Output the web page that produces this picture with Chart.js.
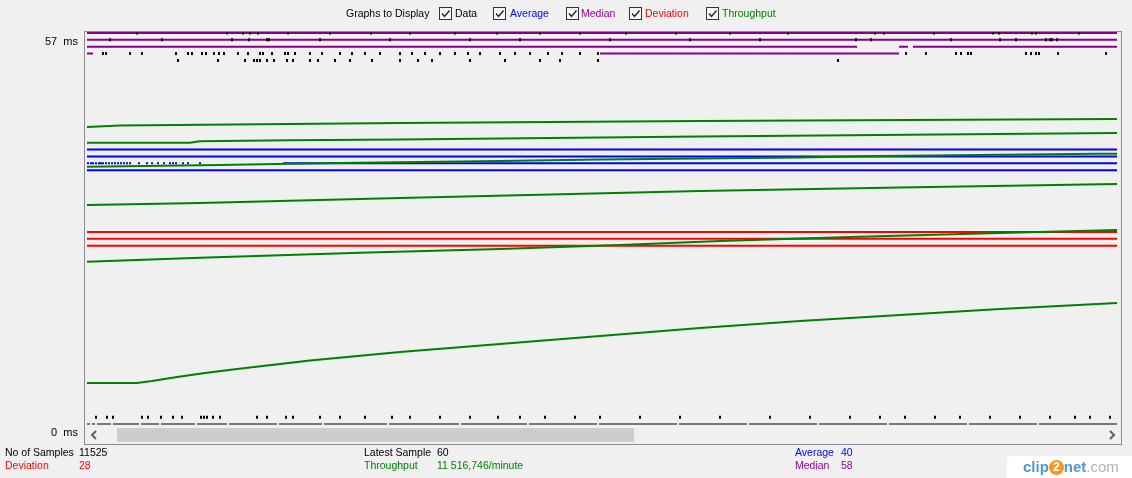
<!DOCTYPE html>
<html>
<head>
<meta charset="utf-8">
<script src="https://cdn.jsdelivr.net/npm/chart.js@4.4.1/dist/chart.umd.min.js"></script>
<style>
  html, body { margin: 0; padding: 0; background: #f0f0f0; }
  body { width: 1132px; height: 478px; position: relative; overflow: hidden;
         font-family: "Liberation Sans", Arial, sans-serif; font-size: 10.5px; color: #000; }
  canvas { position: absolute; left: 0; top: 0; }
  .t { position: absolute; white-space: pre; line-height: 13px; }
  .cb { position: absolute; top: 7px; width: 11px; height: 11px; border: 1px solid #333; background: #f7f7f7; }
  .cb svg { position: absolute; left: 0; top: 0; }
  #frame { position: absolute; left: 84px; top: 31px; width: 1036px; height: 412px; border: 1px solid #8a8e96; }
  #thumb { position: absolute; left: 117px; top: 428px; width: 517px; height: 14px; background: #cdcdcd; }
  .arr { position: absolute; top: 430px; }
  #c2n { position: absolute; left: 1007px; top: 456px; width: 125px; height: 22px; background: #fff;
         border-top-left-radius: 4px; font-family: "Liberation Sans", Arial, sans-serif; font-size: 15px;
         font-weight: bold; line-height: 22px; }
</style>
</head>
<body>
<canvas id="graph" width="1132" height="478"></canvas>

<div class="t" style="left:346px;top:7px">Graphs to Display</div>
<div class="cb" style="left:439px"><svg width="11" height="11"><polyline points="2,5.5 4.5,8.5 9.5,2.5" fill="none" stroke="#222" stroke-width="1.4"/></svg></div>
<div class="t" style="left:455px;top:7px">Data</div>
<div class="cb" style="left:493px"><svg width="11" height="11"><polyline points="2,5.5 4.5,8.5 9.5,2.5" fill="none" stroke="#222" stroke-width="1.4"/></svg></div>
<div class="t" style="left:510px;top:7px;color:#0000ff">Average</div>
<div class="cb" style="left:566px"><svg width="11" height="11"><polyline points="2,5.5 4.5,8.5 9.5,2.5" fill="none" stroke="#222" stroke-width="1.4"/></svg></div>
<div class="t" style="left:581px;top:7px;color:#990099">Median</div>
<div class="cb" style="left:629px"><svg width="11" height="11"><polyline points="2,5.5 4.5,8.5 9.5,2.5" fill="none" stroke="#222" stroke-width="1.4"/></svg></div>
<div class="t" style="left:645px;top:7px;color:#ff0000">Deviation</div>
<div class="cb" style="left:706px"><svg width="11" height="11"><polyline points="2,5.5 4.5,8.5 9.5,2.5" fill="none" stroke="#222" stroke-width="1.4"/></svg></div>
<div class="t" style="left:722px;top:7px;color:#008000">Throughput</div>

<div id="frame"></div>
<div id="thumb"></div>
<svg class="arr" style="left:89px" width="10" height="10"><polyline points="7,1 3,5 7,9" fill="none" stroke="#606060" stroke-width="2"/></svg>
<svg class="arr" style="left:1107px" width="10" height="10"><polyline points="3,1 7,5 3,9" fill="none" stroke="#606060" stroke-width="2"/></svg>

<div class="t" style="left:5px;top:446px">No of Samples</div>
<div class="t" style="left:79px;top:446px">11525</div>
<div class="t" style="left:5px;top:459px;color:#ff0000">Deviation</div>
<div class="t" style="left:79px;top:459px;color:#ff0000">28</div>
<div class="t" style="left:364px;top:446px">Latest Sample</div>
<div class="t" style="left:437px;top:446px">60</div>
<div class="t" style="left:364px;top:459px;color:#008000">Throughput</div>
<div class="t" style="left:437px;top:459px;color:#008000">11 516,746/minute</div>
<div class="t" style="left:795px;top:446px;color:#0000ff">Average</div>
<div class="t" style="left:841px;top:446px;color:#0000ff">40</div>
<div class="t" style="left:795px;top:459px;color:#990099">Median</div>
<div class="t" style="left:841px;top:459px;color:#990099">58</div>

<div id="c2n"><span style="position:absolute;left:16px;top:0;color:#4c9ad6">clip<span style="display:inline-block;width:15px;height:15px;border-radius:50%;background:#f39a1e;color:#fff;text-align:center;line-height:15px;font-size:12px;vertical-align:1px">2</span>net<span style="color:#b4b4b4;font-weight:normal">.com</span></span></div>

<script>
// sample columns run 0..1030, values in ms
let yTicks = [0, 57];

// throughput wraps round the graph, six passes
let tp1X = [0, 33, 313, 613, 1030];
let tp1Y = [43.30, 43.52, 43.88, 44.17, 44.46];
let tp2X = [0, 103, 113, 203, 313, 613, 1030];
let tp2Y = [41.01, 41.01, 41.21, 41.36, 41.47, 41.91, 42.42];
let tp3X = [0, 133, 203, 271, 413, 513, 613, 713, 793, 916, 1010, 1030];
let tp3Y = [37.51, 37.76, 37.95, 38.09, 38.34, 38.56, 38.70, 38.85, 39.07, 39.26, 39.40, 39.40];
let tp4X = [0, 113, 313, 613, 813, 1030];
let tp4Y = [31.93, 32.22, 32.95, 33.97, 34.48, 34.99];
let tp5X = [0, 113, 273, 413, 533, 633, 763, 913, 1030];
let tp5Y = [23.66, 24.24, 24.97, 25.51, 26.09, 26.68, 27.26, 27.84, 28.28];
let tp6X = [0, 50, 65, 90, 118, 150, 193, 223, 313, 413, 513, 613, 713, 813, 913, 1030];
let tp6Y = [5.98, 5.98, 6.27, 6.85, 7.43, 8.02, 8.75, 9.26, 10.50, 11.66, 12.83, 13.99, 15.02, 15.89, 16.76, 17.64];

// average, median, deviation: value and the runs of columns where it is drawn
let averageRows = [40, 39, 38, 37];
let averageRuns = [[[0, 1030]], [[0, 1030]], [[196, 1030]], [[0, 1030]]];
let averageDots38 = [1, 4, 6, 9, 12, 14, 16, 19, 22, 25, 28, 31, 34, 37, 40, 43, 52, 60, 65, 71, 77, 83, 86, 89, 96, 101, 113];
let medianRows = [57, 56, 55, 54];
let medianRuns = [[[0, 1030]], [[0, 1030]], [[0, 770], [812, 821], [826, 1030]], [[0, 6], [513, 812]]];
let deviationRows = [28, 27, 26];

// data samples
let data57 = [50, 140, 156, 163, 171, 201, 243, 284, 323, 368, 410, 453, 493, 539, 589, 643, 701, 788, 797, 847, 906, 912, 945, 949, 992];
let data56 = [23, 75, 145, 162, 180, 182, 233, 303, 383, 433, 523, 603, 673, 769, 784, 864, 913, 929, 959, 963, 965, 970];
let data54 = [16, 19, 43, 55, 89, 101, 105, 115, 119, 127, 132, 137, 151, 161, 173, 176, 185, 198, 201, 208, 223, 235, 253, 265, 278, 293, 313, 325, 338, 353, 368, 381, 393, 413, 428, 443, 461, 475, 493, 511, 819, 839, 869, 874, 881, 884, 939, 944, 949, 952, 971, 1019];
let data53 = [91, 131, 158, 167, 170, 173, 180, 187, 200, 206, 223, 231, 248, 263, 285, 313, 331, 345, 383, 418, 453, 473, 511, 751];
let data1 = [9, 20, 26, 55, 61, 74, 86, 95, 114, 117, 120, 126, 133, 170, 180, 199, 206, 233, 253, 278, 305, 323, 353, 383, 411, 433, 458, 488, 513, 553, 593, 633, 683, 723, 763, 793, 818, 848, 873, 903, 933, 963, 988, 1003, 1023];
let data0Runs = [[0, 3], [5, 8], [10, 24], [26, 52], [54, 72], [74, 108], [110, 140], [142, 190], [192, 235], [237, 300], [302, 372], [374, 440], [442, 510], [512, 590], [592, 660], [662, 730], [732, 800], [802, 880], [882, 950], [952, 1030]];

const GREEN = '#008000', BLUE = '#0000ff', RED = '#ff0000', PURPLE = '#8b008b';

function pts(xs, ys) {
  return xs.map((x, i) => ({ x: x, y: ys[i] }));
}
function runs(v, list) {
  let out = [];
  list.forEach(([a, b]) => { out.push({ x: a, y: v }, { x: b, y: v }, { x: b, y: null }); });
  return out;
}
function marks(v, xs) {
  return xs.map(x => ({ x: x, y: v }));
}
function lineSet(label, data, color) {
  return { label: label, data: data, borderColor: color, borderWidth: 2, pointRadius: 0, spanGaps: false, clip: 4 };
}

let datasets = [];
datasets.push({
  label: 'Data',
  data: [].concat(marks(57, data57), marks(56, data56), marks(54, data54), marks(53, data53), marks(1, data1)),
  showLine: false, pointStyle: 'line', rotation: 90, pointRadius: 1.5,
  pointBorderWidth: 2, pointBorderColor: '#000', clip: 4
});
datasets.push({ label: 'Data', data: runs(0, data0Runs), borderColor: '#000', borderWidth: 1, pointRadius: 0, spanGaps: false, clip: 4 });

[[tp1X, tp1Y], [tp2X, tp2Y], [tp3X, tp3Y], [tp4X, tp4Y], [tp5X, tp5Y], [tp6X, tp6Y]].forEach(([xs, ys]) => {
  datasets.push(lineSet('Throughput', pts(xs, ys), GREEN));
});
deviationRows.forEach(v => datasets.push(lineSet('Deviation', runs(v, [[0, 1030]]), RED)));
medianRows.forEach((v, i) => datasets.push(lineSet('Median', runs(v, medianRuns[i]), PURPLE)));
averageRows.forEach((v, i) => datasets.push(lineSet('Average', runs(v, averageRuns[i]), BLUE)));
datasets.push({
  label: 'Average', data: marks(38, averageDots38), showLine: false,
  pointStyle: 'rect', pointRadius: 1.4, pointBackgroundColor: BLUE, pointBorderWidth: 0
});

let ctx = document.getElementById('graph').getContext('2d');
let graph = new Chart(ctx, {
  type: 'line',
  data: { datasets: datasets },
  options: {
    responsive: false,
    animation: false,
    devicePixelRatio: 1,
    layout: { padding: { left: 0, top: 33, right: 15, bottom: 54 } },
    plugins: { legend: { display: false }, tooltip: { enabled: false } },
    elements: { line: { tension: 0, fill: false } },
    scales: {
      x: { type: 'linear', min: 0, max: 1030, display: false },
      y: {
        min: 0, max: 57,
        afterBuildTicks: s => { s.ticks = yTicks.map(v => ({ value: v })); },
        afterFit: s => { s.width = 87; },
        grid: { display: false, drawTicks: false },
        border: { display: false },
        ticks: {
          padding: 9, labelOffset: 9, color: '#000',
          font: { family: 'Liberation Sans', size: 11 },
          callback: v => v + '  ms'
        }
      }
    }
  }
});
</script>
</body>
</html>
